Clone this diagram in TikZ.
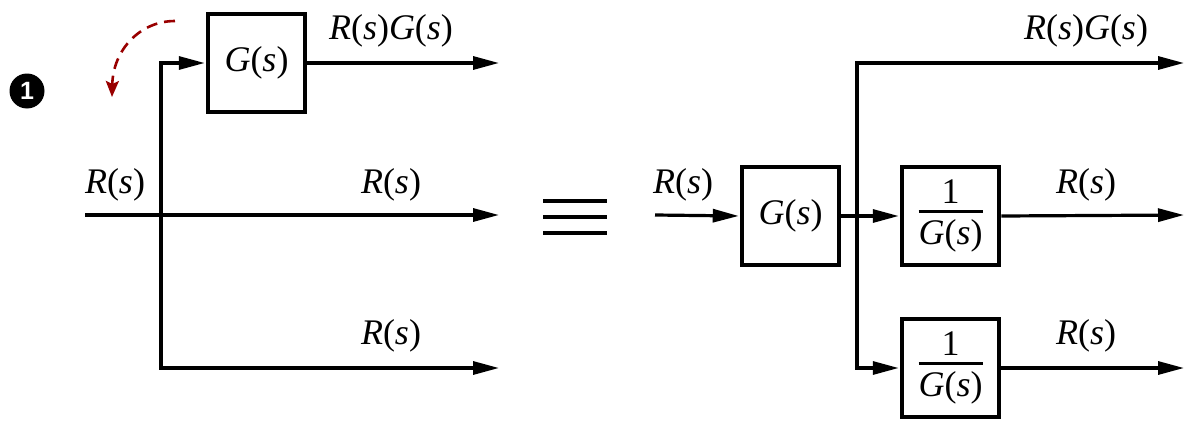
\documentclass[tikz,border=0pt]{standalone}
\usepackage{amsmath}
\usepackage{fontspec}
\setmainfont{Liberation Serif}
\setsansfont{Liberation Sans}
\usetikzlibrary{arrows.meta}
\begin{document}
\begin{tikzpicture}[x=1pt,y=-1pt,
  blk/.style={draw,line width=4.5pt,minimum width=97pt,minimum height=98pt,inner sep=0pt,font=\fontsize{36}{40}\selectfont},
  sig/.style={line width=3.2pt,-{Triangle[length=26pt,width=13pt]},shorten >=1pt},
  wire/.style={line width=3.2pt},
  lbl/.style={font=\fontsize{36}{40}\selectfont,inner sep=0pt,anchor=base},
  note/.style={line width=2.6pt,color=red!60!black,dash pattern=on 11pt off 7pt,-{Stealth[length=16pt,width=13pt,inset=3pt]}},
]
\useasboundingbox (0,0) rectangle (1185,420);
\newcommand{\Rs}{\textit{R}(\textit{s})}
\newcommand{\Gs}{\textit{G}(\textit{s})}
\newcommand{\invG}{$\genfrac{}{}{2.4pt}{1}{\hbox{\raisebox{0pt}[\height][4pt]{1}}}{\hbox{\raisebox{0pt}[\dimexpr\height+4pt\relax][\depth]{\Gs}}}$}
% left side
\coordinate (lin) at (85,215);
\coordinate (lbr) at (161,215);
\node[blk] (g1) at (256.5,63) {\Gs};
\coordinate (lout1) at (500,63);
\coordinate (lout2) at (500,215);
\coordinate (lout3) at (500,368);
\draw[sig] (lin) -- (lout2);
\draw[sig] (lbr) |- (g1.west);
\draw[sig] (lbr) |- (lout3);
\draw[sig] (g1.east) -- (lout1);
\node[lbl] (l1) at (391,40) {\Rs\Gs};
\node[lbl] (l0) at (115,193) {\Rs};
\node[lbl] (l2) at (391,193) {\Rs};
\node[lbl] (l3) at (391,344) {\Rs};
% equivalence
\coordinate (e1a) at (543,201); \coordinate (e1b) at (607,201);
\coordinate (e2a) at (543,217); \coordinate (e2b) at (607,217);
\coordinate (e3a) at (543,233); \coordinate (e3b) at (607,233);
\draw[wire] (e1a) -- (e1b);
\draw[wire] (e2a) -- (e2b);
\draw[wire] (e3a) -- (e3b);
% right side
\coordinate (rin) at (655,215);
\node[blk] (g2) at (790.5,216) {\Gs};
\node[blk] (h1) at (950.5,216) {\invG};
\node[blk] (h2) at (950.5,368) {\invG};
\coordinate (rbr) at (857,215);
\coordinate (rout1) at (1185,63);
\coordinate (rout2) at (1185,215);
\coordinate (rout3) at (1185,368);
\draw[sig] (rin) -- (g2.west);
\draw[sig] (g2.east) -- (h1.west);
\draw[sig] (rbr) |- (rout1);
\draw[sig] (rbr) |- (h2.west);
\draw[sig] (h1.east) -- (rout2);
\draw[sig] (h2.east) -- (rout3);
\node[lbl] (r0) at (683,193) {\Rs};
\node[lbl] (r1) at (1086,40) {\Rs\Gs};
\node[lbl] (r2) at (1086,193) {\Rs};
\node[lbl] (r3) at (1086,344) {\Rs};
% annotation
\node[circle,fill=black,minimum size=35pt,inner sep=0pt,text=white,font=\sffamily\bfseries\fontsize{25}{25}\selectfont] (one) at (27,91) {1};
\coordinate (da) at (175,21);
\coordinate (db) at (112,97);
\draw[note] (da) .. controls (140,21) and (113,50) .. (db);
\end{tikzpicture}
\end{document}
